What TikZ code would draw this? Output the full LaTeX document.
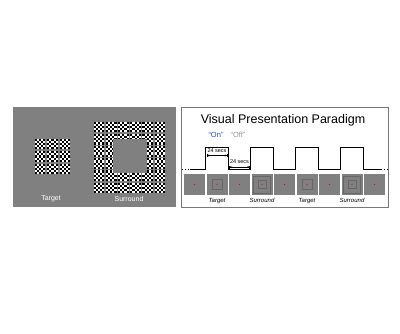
\documentclass[tikz,border=0pt]{standalone}
\usepackage{fontspec}
\setmainfont{Liberation Sans}
\usetikzlibrary{arrows.meta,positioning}

\definecolor{scrgray}{RGB}{128,128,128}
\definecolor{onblue}{RGB}{45,70,235}
\definecolor{offgray}{RGB}{150,150,150}

\tikzset{
  checkblock/.pic={
    \fill[white] (0,0) rectangle (10.4,10.4);
    \foreach \i in {0,...,4}
      \foreach \j in {0,...,4} {
        \pgfmathtruncatemacro{\dark}{mod(\i+\j,2)}
        \ifnum\dark=0
          \fill[black] ({\i*2.08},{\j*2.08}) rectangle +(2.08,2.08);
        \fi
      }
  },
  stimlabel/.style={text=white, font=\fontsize{7}{8}\selectfont, inner sep=0pt},
  frame/.style={fill=scrgray, minimum size=21pt, inner sep=0pt},
  faint/.style={draw=black, draw opacity=0.18, line width=0.4pt},
  framelabel/.style={font=\fontsize{6}{7}\selectfont\itshape, inner sep=0pt},
  seclabel/.style={font=\fontsize{5.5}{6}\selectfont, inner sep=0pt},
  secarrow/.style={{Bar[width=3pt]Stealth[length=2pt,width=2pt]}-{Stealth[length=2pt,width=2pt]Bar[width=3pt]}, line width=0.6pt},
  wave/.style={line width=0.9pt}
}

\begin{document}
\begin{tikzpicture}[x=1pt,y=-1pt]
\useasboundingbox (0,0) rectangle (400,333);

% stimuli
\fill[scrgray] (13,107) rectangle (176,207);
\foreach \bx in {0,1,2}
  \foreach \by in {0,1,2}
    \pic at ({35+12.3*\bx},{139+12.3*\by}) {checkblock};
\foreach \bx in {0,...,5}
  \foreach \by in {0,...,5}
    \pic at ({94+12.12*\bx},{122+12.12*\by}) {checkblock};
\fill[scrgray] (113,139) rectangle (147,173);
\node[stimlabel] (tgt) at (51,199) {Target};
\node[stimlabel] (sur) at (129,199) {Surround};

% paradigm
\draw[offgray!80!black, line width=0.6pt] (181,107) rectangle (388,207);
\node[font=\fontsize{12.5}{14}\selectfont, inner sep=0pt] (title) at (283,120) {Visual Presentation Paradigm};
\node[text=onblue, font=\fontsize{7.5}{8}\selectfont, inner sep=0pt] (on) at (216,135) {“On”};
\node[text=offgray, font=\fontsize{7.5}{8}\selectfont, inner sep=0pt] (off) at (238,135) {“Off”};

\foreach \i in {1,...,9}
  \node[frame] (f\i) at ({194.5+22.5*(\i-1)},184.5) {};
\foreach \i in {2,6}
  \draw[faint] ([shift={(-5,-5)}]f\i.center) rectangle ([shift={(5,5)}]f\i.center);
\foreach \i in {4,8} {
  \draw[faint] ([shift={(-8.5,-8.5)}]f\i.center) rectangle ([shift={(8.5,8.5)}]f\i.center);
  \draw[faint] ([shift={(-4,-4)}]f\i.center) rectangle ([shift={(4,4)}]f\i.center);
}
\foreach \i in {1,...,9}
  \fill[red] (f\i.center) circle (0.6);

\node[framelabel, below=2.5pt of f2] (l2) {Target};
\node[framelabel, below=2.5pt of f4] (l4) {Surround};
\node[framelabel, below=2.5pt of f6] (l6) {Target};
\node[framelabel, below=2.5pt of f8] (l8) {Surround};

\draw[wave, dotted] (182,169) -- (190,169);
\draw[wave] (190,169) -| (205.75,147) -| (228.25,169) -| (250.75,147) -| (273.25,169)
  -| (295.75,147) -| (318.25,169) -| (340.75,147) -| (363.25,169) -- (381,169);
\draw[wave, dotted] (381,169) -- (388,169);

\coordinate (a1) at (206.5,155.5);
\coordinate (a2) at (227.5,155.5);
\coordinate (b1) at (229,167);
\coordinate (b2) at (250,167);
\draw[secarrow] (a1) -- (a2);
\draw[secarrow] (b1) -- (b2);
\node[seclabel] (s1) at (217,150.5) {24 secs};
\node[seclabel] (s2) at (239.5,162) {24 secs};
\end{tikzpicture}
\end{document}
